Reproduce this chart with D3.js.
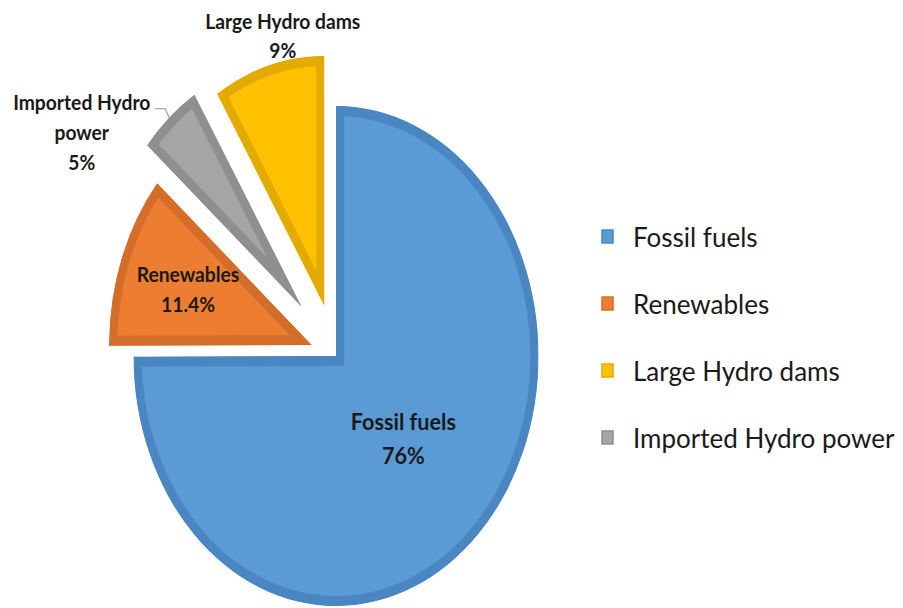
<!DOCTYPE html>
<html><head><meta charset="utf-8">
<script src="https://cdn.jsdelivr.net/npm/d3@7"></script>
<style>body{margin:0;background:#fff}svg{display:block}</style>
</head><body>
<svg id="chart" width="903" height="608"></svg>
<script>
// ---- data ----
const categories = ["Fossil fuels", "Renewables", "Imported Hydro power", "Large Hydro dams"];
const values = [76, 11.4, 5, 9];
const valueLabels = ["76%", "11.4%", "5%", "9%"];
const nameLines = [["Fossil fuels"], ["Renewables"], ["Imported Hydro", "power"], ["Large Hydro dams"]];
const legendOrder = ["Fossil fuels", "Renewables", "Large Hydro dams", "Imported Hydro power"];

// ---- style / layout config ----
const fillColors = {"Fossil fuels": "#5B9BD5", "Renewables": "#ED7D31", "Imported Hydro power": "#A5A5A5", "Large Hydro dams": "#FFC000"};
const borderColors = {"Fossil fuels": "#4A86C1", "Renewables": "#D46D29", "Imported Hydro power": "#8F8F8F", "Large Hydro dams": "#E3AA00"};
const explode = [0, 32, 65, 52];            // slice offsets (unscaled px)
const labelPlace = [                         // label block centre: angle (deg, or null = mid angle), radius factor
  {a: null, k: 0.47, size: 23.5, lh: 34, sx: 0.92},
  {a: null, k: 0.65, size: 20.5, lh: 30, sx: 0.94},
  {a: 302.7, k: 1.29, size: 20.5, lh: 30, sx: 0.94},
  {a: 349.2, k: 1.098, size: 20.5, lh: 29, sx: 0.94}
];

const W = 903, H = 608;
const cx = 336, cy = 356, R = 250, sx = 0.81, border = 10;
const svg = d3.select("#chart");

const pie = d3.pie().sort(null).value(d => d)(values);
const arc = d3.arc().innerRadius(0).outerRadius(R);
const defs = svg.append("defs");
const pieG = svg.append("g").attr("transform", `translate(${cx},${cy}) scale(${sx},1)`);

function offsetFor(i) {
  const mid = (pie[i].startAngle + pie[i].endAngle) / 2;
  return [Math.sin(mid) * explode[i], -Math.cos(mid) * explode[i]];
}

pie.forEach((p, i) => {
  const cat = categories[i];
  const [ox, oy] = offsetFor(i);
  const d = arc(p);
  defs.append("clipPath").attr("id", "clip" + i).append("path").attr("d", d);
  const g = pieG.append("g").attr("transform", `translate(${ox},${oy})`);
  g.append("path").attr("d", d)
    .attr("fill", fillColors[cat])
    .attr("stroke", borderColors[cat])
    .attr("stroke-width", border * 2)
    .attr("stroke-linejoin", "miter")
    .attr("clip-path", `url(#clip${i})`);
});

function toScreen(i, ang, r) {
  const [ox, oy] = offsetFor(i);
  return [cx + sx * (ox + Math.sin(ang) * r), cy + oy - Math.cos(ang) * r];
}

// leader line for Imported Hydro power
{
  const i = 2, p = pie[i];
  const mid = (p.startAngle + p.endAngle) / 2;
  const [x0, y0] = toScreen(i, mid, R);
  svg.append("path")
    .attr("d", d3.line()([[x0, y0], [x0 - 4, y0 - 9], [x0 - 14, y0 - 9]]))
    .attr("fill", "none").attr("stroke", "#A6A6A6").attr("stroke-width", 1.3);
}

// data labels
pie.forEach((p, i) => {
  const lp = labelPlace[i];
  const ang = lp.a == null ? (p.startAngle + p.endAngle) / 2 : lp.a * Math.PI / 180;
  const [x, y] = toScreen(i, ang, R * lp.k);
  const lines = nameLines[i].concat([valueLabels[i]]);
  const cap = lp.size * 0.72;
  const hgt = cap + (lines.length - 1) * lp.lh;
  const y0 = y - hgt / 2 + cap;
  const t = svg.append("text")
    .attr("transform", `translate(${x},${y0}) scale(${lp.sx},1)`)
    .attr("text-anchor", "middle")
    .attr("font-family", "Lato, 'Open Sans', sans-serif")
    .attr("font-weight", "bold")
    .attr("font-size", lp.size)
    .attr("fill", "#1a1a1a");
  lines.forEach((ln, j) => t.append("tspan").attr("x", 0).attr("y", j * lp.lh).text(ln));
});

// legend
const legY = d3.scalePoint().domain(legendOrder).range([247, 448]);
const leg = svg.append("g");
legendOrder.forEach(cat => {
  const y = legY(cat);
  leg.append("rect").attr("x", 602).attr("y", y - 17).attr("width", 11).attr("height", 13)
    .attr("fill", fillColors[cat]).attr("stroke", borderColors[cat]).attr("stroke-width", 1.5);
  leg.append("text").attr("x", 633).attr("y", y)
    .attr("font-family", "Lato, 'Open Sans', sans-serif")
    .attr("font-size", 26).attr("fill", "#1a1a1a").text(cat);
});
</script>
</body></html>
